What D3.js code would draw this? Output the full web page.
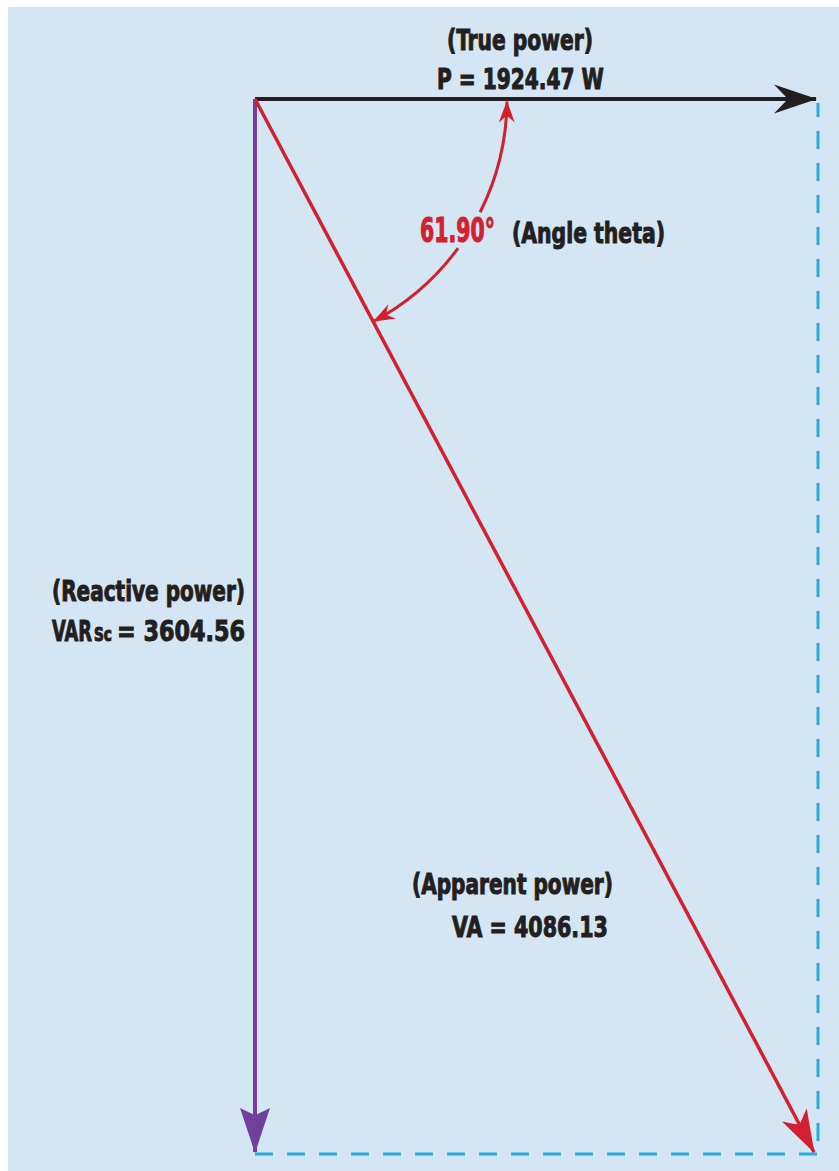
<!DOCTYPE html>
<html>
<head>
<meta charset="utf-8">
<script src="https://cdn.jsdelivr.net/npm/d3@7"></script>
<style>
  html, body { margin: 0; padding: 0; background: #fff; }
  svg { display: block; }
  .lbl { font-family: "Liberation Sans Narrow", "DejaVu Sans Condensed", "Roboto", sans-serif;
         font-weight: bold; fill: #231f20; stroke: #231f20; stroke-width: 1px; }
</style>
</head>
<body>
<svg width="839" height="1171"></svg>
<script>
// power triangle values
var truePower = 1924.47,
    reactivePower = 3604.56,
    apparentPower = 4086.13,
    thetaDeg = 61.90;

var titles = ["(True power)", "(Reactive power)", "(Apparent power)", "(Angle theta)"];
var valueLabels = ["P = " + truePower.toFixed(2) + " W",
                   "VAR", "Sc", "= " + reactivePower.toFixed(2),
                   "VA = " + apparentPower.toFixed(2),
                   thetaDeg.toFixed(2) + "\u00b0"];

var svg = d3.select("svg"),
    origin = {x: 255, y: 99};

var colors = {bg: "#d4e5f4", black: "#231f20", red: "#d2202e", purple: "#71409a", blue: "#29abe2"};

// one scale per axis, same px per unit
var x = d3.scaleLinear().domain([0, truePower]).range([origin.x, 818]),
    y = d3.scaleLinear().domain([0, reactivePower]).range([origin.y, 1154]);

svg.append("rect")
    .attr("x", 8).attr("y", 7)
    .attr("width", 831).attr("height", 1164)
    .attr("fill", colors.bg);

var defs = svg.append("defs");

function marker(id, color, d) {
  defs.append("marker")
      .attr("id", id)
      .attr("markerUnits", "userSpaceOnUse")
      .attr("viewBox", "-50 -20 52 40")
      .attr("refX", 0).attr("refY", 0)
      .attr("markerWidth", 52).attr("markerHeight", 40)
      .attr("orient", "auto")
    .append("path")
      .attr("d", d)
      .attr("fill", color);
}
marker("arrBlack", colors.black, "M1,0 L-42,-14.5 Q-31,-3 -28,0 Q-31,3 -42,14.5 Z");
marker("arrPurple", colors.purple, "M1,0 L-44,-15 Q-38,-3 -37,0 Q-38,3 -44,15 Z");
marker("arrRed", colors.red, "M1,0 L-42,-14 Q-33,-3 -31,0 Q-33,3 -42,14 Z");
marker("arrRedSmall", colors.red, "M1,0 L-21,-8 Q-15,-1.5 -14,0 Q-15,1.5 -21,8 Z");

// dashed completion lines
svg.append("line")
    .attr("x1", x(0)).attr("y1", y(reactivePower))
    .attr("x2", x(truePower)).attr("y2", y(reactivePower))
    .attr("stroke", colors.blue).attr("stroke-width", 3)
    .attr("stroke-dasharray", "18 14");
svg.append("line")
    .attr("x1", x(truePower)).attr("y1", y(0) + 4)
    .attr("x2", x(truePower)).attr("y2", y(reactivePower))
    .attr("stroke", colors.blue).attr("stroke-width", 3)
    .attr("stroke-dasharray", "18 14")
    .attr("stroke-dashoffset", 4);

// true power (horizontal)
svg.append("line")
    .attr("x1", x(0)).attr("y1", y(0))
    .attr("x2", x(truePower) - 2).attr("y2", y(0))
    .attr("stroke", colors.black).attr("stroke-width", 4)
    .attr("marker-end", "url(#arrBlack)");

// reactive power (vertical)
svg.append("line")
    .attr("x1", x(0)).attr("y1", y(0))
    .attr("x2", x(0)).attr("y2", y(reactivePower) - 2)
    .attr("stroke", colors.purple).attr("stroke-width", 4)
    .attr("marker-end", "url(#arrPurple)");

// apparent power (hypotenuse)
svg.append("line")
    .attr("x1", x(0)).attr("y1", y(0))
    .attr("x2", x(truePower) - 4).attr("y2", y(reactivePower) - 2)
    .attr("stroke", colors.red).attr("stroke-width", 3.5)
    .attr("marker-end", "url(#arrRed)");

// angle arc, split around the label
var arcR = 252,
    rad = Math.PI / 180,
    gapA = 26.7, gapB = 36.3;
function pt(a) { return [origin.x + arcR * Math.cos(a * rad), origin.y + arcR * Math.sin(a * rad)]; }

var p1 = pt(gapA), p0 = pt(0.6);
svg.append("path")
    .attr("d", "M" + p1 + " A" + arcR + "," + arcR + " 0 0 0 " + p0)
    .attr("fill", "none").attr("stroke", colors.red).attr("stroke-width", 3)
    .attr("marker-end", "url(#arrRedSmall)");

var p2 = pt(gapB), p3 = pt(thetaDeg);
svg.append("path")
    .attr("d", "M" + p2 + " A" + arcR + "," + arcR + " 0 0 1 " + p3)
    .attr("fill", "none").attr("stroke", colors.red).attr("stroke-width", 3)
    .attr("marker-end", "url(#arrRedSmall)");

// labels: squeeze each one horizontally to the condensed width of the original
function label(txt, xx, yy, w, size) {
  var t = svg.append("text")
      .attr("class", "lbl")
      .attr("font-size", size || 29)
      .text(txt);
  var w0 = t.node().getComputedTextLength() || w;
  t.attr("transform", "translate(" + xx + "," + yy + ") scale(" + (w / w0) + ",1)");
  return t;
}

label(titles[0], 447, 50, 146);
label(valueLabels[0], 437, 89, 167);

label(titles[3], 512, 243, 153);
label(valueLabels[5], 420, 242, 75, 33)
    .style("fill", colors.red).style("stroke", colors.red);

label(titles[1], 52, 601, 193);
label(valueLabels[1], 52, 641, 40);
label(valueLabels[2], 94, 641, 18, 19);
label(valueLabels[3], 117, 641, 128);

label(titles[2], 412, 894, 201);
label(valueLabels[4], 452, 937, 156);
</script>
</body>
</html>
